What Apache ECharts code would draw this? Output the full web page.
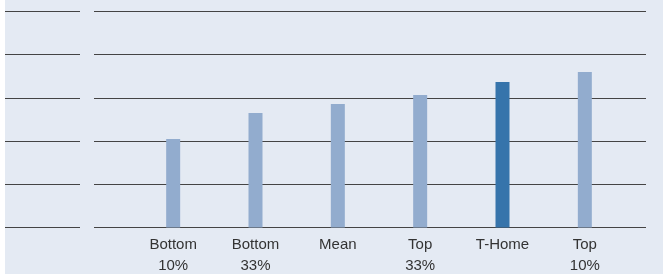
<!DOCTYPE html>
<html>
<head>
<meta charset="utf-8">
<script src="https://cdn.jsdelivr.net/npm/echarts@6/dist/echarts.min.js"></script>
<style>
  html, body { margin: 0; padding: 0; background: #fff; }
  #chart { margin-left: 5px; width: 658px; height: 274px; }
</style>
</head>
<body>
<div id="chart"></div>
<script>
// groups along the x axis
const categories = ['Bottom\n10%', 'Bottom\n33%', 'Mean', 'Top\n33%', 'T-Home', 'Top\n10%']
// bar heights (in grid units, 0..5)
const values = [2.05, 2.65, 2.86, 3.07, 3.37, 3.6]
const highlight = 'T-Home'

const yMin = 0
const yMax = 5

const lightBar = '#92acce'
const darkBar = '#3674ab'
const gridColor = '#444'

const chart = echarts.init(document.getElementById('chart'))

function yAxisFor(idx, showLines) {
  return {
    gridIndex: idx,
    type: 'value',
    min: yMin,
    max: yMax,
    interval: 1,
    axisLine: { show: false },
    axisTick: { show: false },
    axisLabel: { show: false },
    splitLine: { show: showLines, lineStyle: { color: gridColor, width: 1.2 } }
  }
}

const option = {
  backgroundColor: '#e4eaf3',
  animation: false,
  grid: [
    { left: 0, width: 75, top: 11.5, bottom: 46.5, outerBoundsMode: 'none' },
    { left: 89, width: 552, top: 11.5, bottom: 46.5, outerBoundsMode: 'none' },
    { left: 127, width: 494, top: 11.5, bottom: 46.5, outerBoundsMode: 'none' }
  ],
  xAxis: [
    { gridIndex: 0, type: 'value', show: false },
    { gridIndex: 1, type: 'value', show: false },
    {
      gridIndex: 2,
      type: 'category',
      data: categories,
      axisLine: { show: false },
      axisTick: { show: false },
      axisLabel: {
        margin: 7,
        color: '#333',
        fontFamily: 'Liberation Sans',
        fontSize: 15,
        lineHeight: 21,
        interval: 0
      }
    }
  ],
  yAxis: [yAxisFor(0, true), yAxisFor(1, true), yAxisFor(2, false)],
  series: [
    {
      type: 'bar',
      xAxisIndex: 2,
      yAxisIndex: 2,
      barWidth: 14,
      data: values.map((v, i) => ({
        value: v,
        itemStyle: { color: categories[i] === highlight ? darkBar : lightBar }
      }))
    }
  ]
}

chart.setOption(option)
</script>
</body>
</html>
